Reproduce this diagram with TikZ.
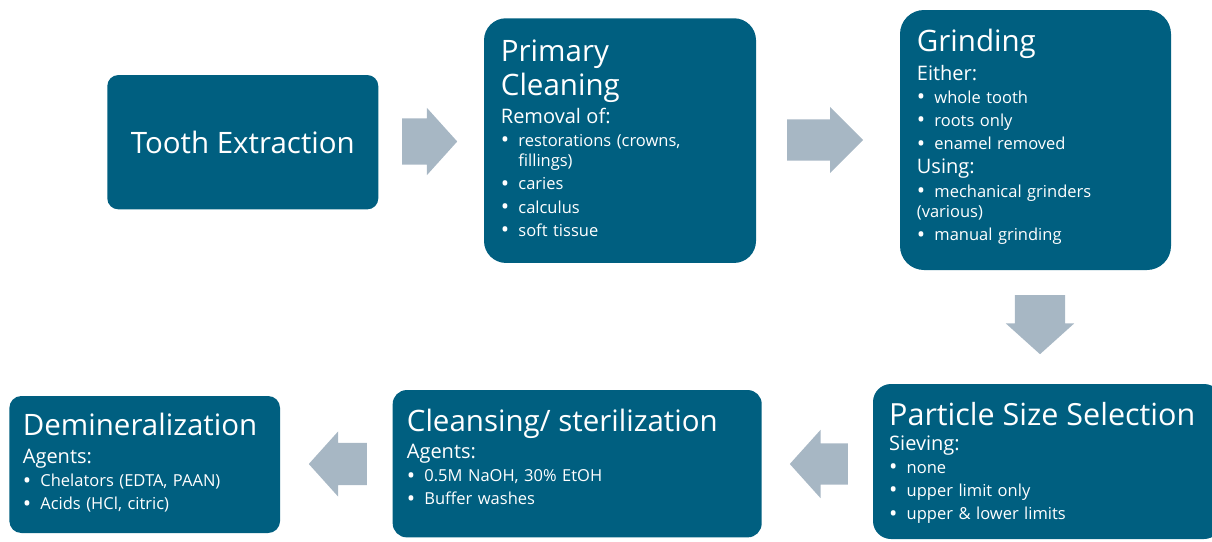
\documentclass[tikz,border=0pt]{standalone}
\usepackage{fontspec}
\setmainfont{Open Sans}
\usetikzlibrary{shapes.arrows}

\definecolor{step fill}{RGB}{0,95,128}
\definecolor{arrow fill}{RGB}{167,183,196}
\def\titlesize{\fontsize{29.5}{33.3}\selectfont}
\def\subsize{\fontsize{20}{21.5}\selectfont}
\def\itemsize{\fontsize{16.5}{20.5}\selectfont}
\def\bitem{\makebox[17.5pt][l]{\raisebox{-1.5pt}{\scalebox{1.35}{\textbullet}}}}
\tikzset{stepbox/.style={fill=step fill, draw=none, inner sep=0pt, text=white, font=\titlesize},
    steptitle/.style={text=white, font=\titlesize, inner sep=0pt, align=left, anchor=base west},
    stepbody/.style={text=white, font={\itemsize\parindent=0pt\parskip=2.7pt}, inner sep=0pt,
        text width=300pt, align=left, anchor=base west},
    flow/.style={single arrow, fill=arrow fill, draw=none, inner xsep=0pt, anchor=tail, single arrow tip angle=96}}

\begin{document}
\begin{tikzpicture}[x=1pt, y=-1pt]
    \useasboundingbox (0,0) rectangle (1212,541);
    % steps
    \node[stepbox, minimum width=271, minimum height=134.3, rounded corners=11] (extract) at (242.8,142.2) {Tooth Extraction};
    \node[stepbox, minimum width=272, minimum height=244.7, rounded corners=22] (clean) at (620,140.6) {};
    \node[stepbox, minimum width=271, minimum height=260, rounded corners=24] (grind) at (1035.5,140) {};
    \node[stepbox, minimum width=349, minimum height=155, rounded corners=18] (sieve) at (1047.5,461.5) {};
    \node[stepbox, minimum width=369, minimum height=147.3, rounded corners=14] (cleanse) at (577.2,463.7) {};
    \node[stepbox, minimum width=270.7, minimum height=137, rounded corners=12] (demin) at (144.7,464.5) {};

    \node[steptitle] (cleantitle) at (500.7,95) {Primary\\Cleaning};
    \node[stepbody] (cleanbody) at (500.7,123) {{\subsize Removal of:\par}
        \bitem restorations (crowns,\\\hspace*{17.5pt}fillings)\par
        \bitem caries\par
        \bitem calculus\par
        \bitem soft tissue\par};

    \node[steptitle] (grindtitle) at (916.7,51.7) {Grinding};
    \node[stepbody] (grindbody) at (916.7,80) {{\subsize Either:\par}
        \bitem whole tooth\par
        \bitem roots only\par
        \bitem enamel removed\par
        {\subsize Using:\par}
        \bitem mechanical grinders\\(various)\par
        \bitem manual grinding\par};

    \node[steptitle, font=\fontsize{30.5}{33.3}\selectfont] (sievetitle) at (889,425) {Particle Size Selection};
    \node[stepbody] (sievebody) at (889,450) {{\subsize Sieving:\par}
        \bitem none\par
        \bitem upper limit only\par
        \bitem upper \& lower limits\par};

    \node[steptitle] (cleansetitle) at (406.7,431.7) {Cleansing/ sterilization};
    \node[stepbody] (cleansebody) at (406.7,458.3) {{\subsize Agents:\par}
        \bitem 0.5M NaOH, 30\% EtOH\par
        \bitem Buffer washes\par};

    \node[steptitle] (demintitle) at (22.7,435) {Demineralization};
    \node[stepbody] (deminbody) at (22.7,463.3) {{\subsize Agents:\par}
        \bitem Chelators (EDTA, PAAN)\par
        \bitem Acids (HCl, citric)\par};

    % arrows between steps
    \node[flow, minimum height=55, inner ysep=23, single arrow head extend=10.5] (a1) at (402,141.5) {};
    \node[flow, minimum height=76, inner ysep=20.5, single arrow head extend=12.5, single arrow tip angle=90] (a2) at (787,140) {};
    \node[flow, minimum height=59, inner ysep=25, single arrow head extend=9, rotate=-90] (a3) at (1040,295) {};
    \node[flow, minimum height=58, inner ysep=20.5, single arrow head extend=13.5, rotate=180] (a4) at (848,464) {};
    \node[flow, minimum height=58, inner ysep=21, single arrow head extend=11.5, rotate=180] (a5) at (367,464) {};
\end{tikzpicture}
\end{document}
